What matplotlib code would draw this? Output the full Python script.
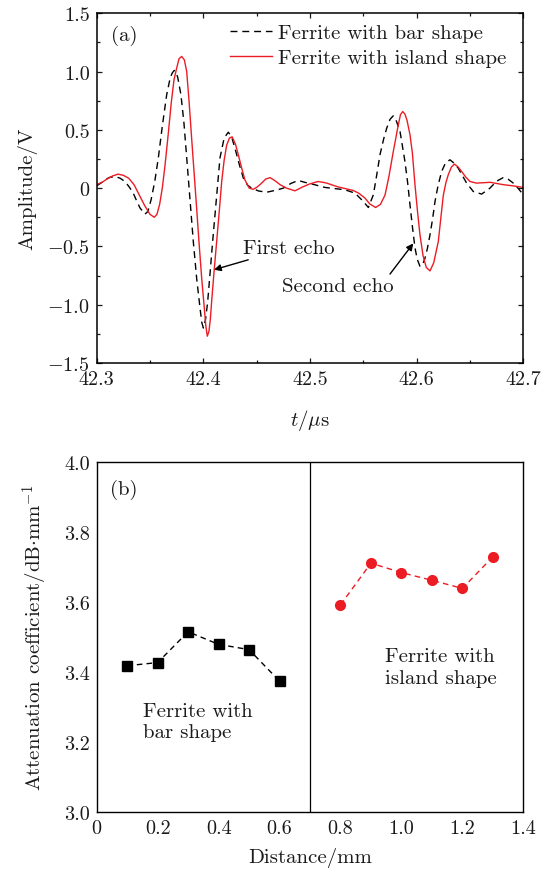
import matplotlib
matplotlib.use("Agg")
import matplotlib.pyplot as plt
from matplotlib.ticker import MultipleLocator

plt.rcParams["font.family"] = ["cmr10", "DejaVu Serif"]
plt.rcParams["mathtext.fontset"] = "cm"
plt.rcParams["axes.formatter.use_mathtext"] = True

# --- (a) echo waveforms ---
t_island = [42.300, 42.305, 42.310, 42.315, 42.320, 42.325, 42.330, 42.335, 42.340, 42.345,
            42.350, 42.354, 42.3565, 42.359, 42.3615, 42.364, 42.367, 42.370, 42.3725, 42.375,
            42.3772, 42.3797, 42.3822, 42.3844, 42.3868, 42.389, 42.3915, 42.3937, 42.3959, 42.3985,
            42.4009, 42.4023, 42.4037, 42.4052, 42.4065, 42.4078, 42.410, 42.4125, 42.415, 42.4172,
            42.4195, 42.4219, 42.4245, 42.427, 42.430, 42.4328, 42.436, 42.439, 42.443, 42.4468,
            42.4505, 42.4547, 42.4585, 42.4625, 42.467, 42.4719, 42.478, 42.4859, 42.493, 42.500,
            42.5075, 42.515, 42.5265, 42.5406, 42.546, 42.5515, 42.556, 42.5615, 42.566, 42.5703,
            42.574, 42.578, 42.5825, 42.5848, 42.5869, 42.589, 42.591, 42.5937, 42.596, 42.5984,
            42.601, 42.6031, 42.606, 42.609, 42.6125, 42.616, 42.6203, 42.6225, 42.625, 42.6275,
            42.6296, 42.6325, 42.6353, 42.6385, 42.6422, 42.646, 42.650, 42.6562, 42.669, 42.681,
            42.690, 42.700]
v_island = [0.030, 0.050, 0.080, 0.105, 0.120, 0.110, 0.085, 0.030, -0.060, -0.150,
            -0.225, -0.250, -0.225, -0.140, 0.000, 0.190, 0.457, 0.740, 0.930, 1.030,
            1.110, 1.130, 1.100, 1.000, 0.720, 0.430, 0.110, -0.170, -0.460, -0.780,
            -1.030, -1.180, -1.270, -1.230, -1.130, -0.970, -0.720, -0.457, -0.190, 0.057,
            0.240, 0.370, 0.430, 0.440, 0.380, 0.286, 0.170, 0.070, 0.000, -0.010,
            0.010, 0.043, 0.078, 0.090, 0.065, 0.030, 0.000, -0.023, 0.010, 0.037,
            0.057, 0.045, 0.010, -0.020, -0.045, -0.085, -0.135, -0.166, -0.140, -0.060,
            0.100, 0.310, 0.530, 0.630, 0.657, 0.635, 0.580, 0.460, 0.300, 0.030,
            -0.220, -0.400, -0.580, -0.680, -0.710, -0.640, -0.457, -0.270, -0.060, 0.050,
            0.114, 0.180, 0.206, 0.185, 0.143, 0.095, 0.057, 0.043, 0.050, 0.030,
            0.020, 0.006]

t_bar = [42.300, 42.305, 42.3078, 42.312, 42.3172, 42.322, 42.3265, 42.3305, 42.3343, 42.3375,
         42.3406, 42.3453, 42.348, 42.351, 42.3545, 42.3578, 42.3615, 42.3656, 42.369, 42.371,
         42.3728, 42.3745, 42.376, 42.379, 42.3818, 42.3844, 42.3875, 42.3906, 42.3938, 42.3969,
         42.3985, 42.400, 42.402, 42.404, 42.4062, 42.4085, 42.4109, 42.4133, 42.4156, 42.4195,
         42.4234, 42.4265, 42.4297, 42.4335, 42.4375, 42.4415, 42.4453, 42.452, 42.4594, 42.467,
         42.475, 42.482, 42.489, 42.495, 42.502, 42.514, 42.5328, 42.5422, 42.550, 42.5547,
         42.5594, 42.5625, 42.5656, 42.569, 42.5719, 42.575, 42.578, 42.581, 42.5844, 42.589,
         42.5915, 42.5937, 42.596, 42.5984, 42.6005, 42.6031, 42.6055, 42.6078, 42.610, 42.6125,
         42.615, 42.6172, 42.620, 42.6234, 42.627, 42.6312, 42.635, 42.639, 42.643, 42.6469,
         42.6531, 42.6609, 42.6687, 42.675, 42.6812, 42.686, 42.6906, 42.695, 42.700]
v_bar = [0.020, 0.050, 0.071, 0.092, 0.100, 0.085, 0.057, 0.010, -0.043, -0.110,
         -0.170, -0.223, -0.200, -0.100, 0.060, 0.260, 0.530, 0.800, 0.950, 0.990,
         1.010, 0.990, 0.950, 0.800, 0.560, 0.260, -0.100, -0.460, -0.780, -1.030,
         -1.150, -1.200, -1.130, -0.980, -0.740, -0.480, -0.230, 0.020, 0.260, 0.430,
         0.480, 0.440, 0.340, 0.210, 0.086, 0.025, 0.000, -0.025, -0.035, -0.020,
         0.000, 0.040, 0.066, 0.050, 0.035, 0.006, -0.014, -0.043, -0.114, -0.166,
         -0.057, 0.110, 0.286, 0.420, 0.514, 0.590, 0.620, 0.575, 0.486, 0.229,
         0.050, -0.140, -0.330, -0.510, -0.610, -0.670, -0.660, -0.600, -0.520, -0.400,
         -0.260, -0.114, 0.020, 0.143, 0.215, 0.243, 0.215, 0.171, 0.105, 0.043,
         -0.029, -0.051, 0.000, 0.060, 0.090, 0.075, 0.043, 0.000, -0.057]

amp_ticks = [-1.5, -1.0, -0.5, 0.0, 0.5, 1.0, 1.5]
amp_labels = ["$-1.5$", "$-1.0$", "$-0.5$", "0", "0.5", "1.0", "1.5"]
t_ticks = [42.3, 42.4, 42.5, 42.6, 42.7]

# --- (b) attenuation coefficient ---
dist_bar = [0.1, 0.2, 0.3, 0.4, 0.5, 0.6]
att_bar = [3.418, 3.427, 3.515, 3.479, 3.464, 3.374]
dist_island = [0.8, 0.9, 1.0, 1.1, 1.2, 1.3]
att_island = [3.592, 3.711, 3.684, 3.662, 3.639, 3.729]
dist_ticks = [0, 0.2, 0.4, 0.6, 0.8, 1.0, 1.2, 1.4]
dist_labels = ["0", "0.2", "0.4", "0.6", "0.8", "1.0", "1.2", "1.4"]
att_ticks = [3.0, 3.2, 3.4, 3.6, 3.8, 4.0]

RED = "#ec1c24"
TXT = "#1a1a1a"
FS = 15
TFS = 14.5

fig = plt.figure(figsize=(5.5, 8.7), dpi=100)
ax1 = fig.add_axes([0.1758, 0.5816, 0.7757, 0.4020])
ax2 = fig.add_axes([0.1758, 0.0655, 0.7757, 0.4023])

ax1.plot(t_bar, v_bar, color="black", lw=1.0, linestyle=(0, (5, 3.5)),
         label="Ferrite with bar shape")
ax1.plot(t_island, v_island, color=RED, lw=1.0, label="Ferrite with island shape")
ax1.set_xlim(42.3, 42.7)
ax1.set_ylim(-1.5, 1.5)
ax1.set_xticks(t_ticks)
ax1.set_xticklabels([f"{v:.1f}" for v in t_ticks])
ax1.set_yticks(amp_ticks)
ax1.set_yticklabels(amp_labels)
ax1.xaxis.set_minor_locator(MultipleLocator(0.05))
ax1.yaxis.set_minor_locator(MultipleLocator(0.25))
ax1.tick_params(which="both", direction="in", top=True, right=True, labelsize=TFS,
                colors=TXT, width=0.9)
ax1.tick_params(which="major", length=3.5)
ax1.tick_params(which="minor", length=2.5)
ax1.tick_params(axis="x", pad=5)
ax1.tick_params(axis="y", pad=5)
ax1.set_xlabel("$t/\\mu$s", fontsize=FS, color=TXT, labelpad=14)
ax1.set_ylabel("Amplitude/V", fontsize=FS, color=TXT, labelpad=7)
ax1.legend(loc="upper left", bbox_to_anchor=(0.3125, 0.971), frameon=False, fontsize=FS,
           handlelength=2.0, handletextpad=0.3, labelspacing=0.3, borderpad=0,
           borderaxespad=0, labelcolor=TXT)
ax1.text(0.033, 0.938, "(a)", transform=ax1.transAxes, fontsize=FS, color=TXT, va="center")
ax1.annotate("First echo", xy=(42.410, -0.70), xytext=(42.437, -0.514),
             fontsize=FS, color=TXT, va="center",
             arrowprops=dict(arrowstyle="-|>", color="black", lw=1.0,
                             mutation_scale=10, shrinkA=0, shrinkB=0))
ax1.annotate("", xy=(42.5968, -0.474), xytext=(42.575, -0.737),
             arrowprops=dict(arrowstyle="-|>", color="black", lw=1.0,
                             mutation_scale=10, shrinkA=0, shrinkB=0))
ax1.text(42.474, -0.843, "Second echo", fontsize=FS, color=TXT, va="center")
for s in ax1.spines.values():
    s.set_linewidth(1.1)

ax2.plot(dist_bar, att_bar, color="black", lw=1.0, linestyle=(0, (4, 3)),
         marker="s", markersize=6.5)
ax2.plot(dist_island, att_island, color=RED, lw=1.0, linestyle=(0, (4, 3)),
         marker="o", markersize=7)
ax2.axvline(0.7, color="black", lw=0.9)
ax2.set_xlim(0, 1.4)
ax2.set_ylim(3.0, 4.0)
ax2.set_xticks(dist_ticks)
ax2.set_xticklabels(dist_labels)
ax2.set_yticks(att_ticks)
ax2.set_yticklabels([f"{v:.1f}" for v in att_ticks])
ax2.tick_params(length=0, labelsize=TFS, colors=TXT, pad=5)
ax2.set_xlabel("Distance/mm", fontsize=FS, color=TXT, labelpad=7)
ax2.set_ylabel("Attenuation coefficient/dB$\\cdot$mm$^{-1}$", fontsize=FS, color=TXT,
               labelpad=10)
ax2.text(0.031, 0.922, "(b)", transform=ax2.transAxes, fontsize=FS, color=TXT, va="center")
ax2.text(0.151, 3.258, "Ferrite with\nbar shape", fontsize=FS, color=TXT, va="center",
         linespacing=1.25)
ax2.text(0.946, 3.414, "Ferrite with\nisland shape", fontsize=FS, color=TXT, va="center",
         linespacing=1.25)
for s in ax2.spines.values():
    s.set_linewidth(1.0)

fig.savefig("out.png", dpi=100)
